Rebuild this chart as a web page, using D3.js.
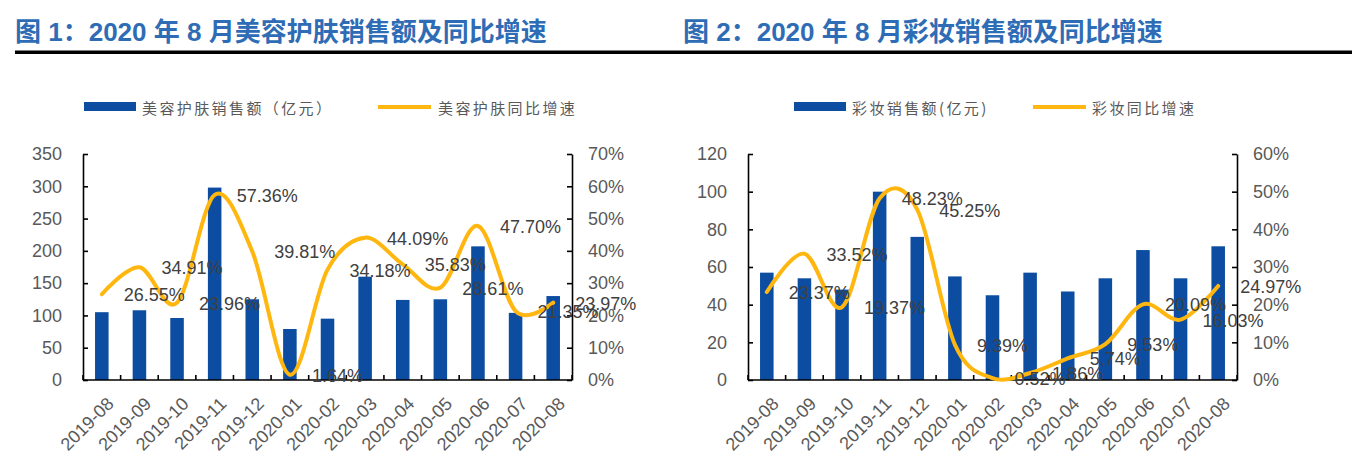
<!DOCTYPE html>
<html><head><meta charset="utf-8">
<script src="https://cdn.jsdelivr.net/npm/d3@7"></script>
<style>body{margin:0;background:#fff} svg{display:block}</style>
</head><body><svg id="c" width="1363" height="470"></svg>
<script>
const categories = ["2019-08","2019-09","2019-10","2019-11","2019-12","2020-01","2020-02","2020-03","2020-04","2020-05","2020-06","2020-07","2020-08"];
const skincareSales = [105,108,96,298,125,79,95,160,124,125,207,104,130];
const skincareGrowth = [26.55,34.91,23.96,57.36,39.81,1.64,34.18,44.09,35.83,28.61,47.70,21.35,23.97];
const makeupSales = [57,54,48,100,76,55,45,57,47,54,69,54,71];
const makeupGrowth = [23.37,33.52,19.37,48.23,45.25,9.39,0.52,1.86,5.74,9.53,20.09,16.03,24.97];
const skincareLeftTicks = [0,50,100,150,200,250,300,350];
const skincareRightTicks = [0,10,20,30,40,50,60,70];
const makeupLeftTicks = [0,20,40,60,80,100,120];
const makeupRightTicks = [0,10,20,30,40,50,60];
const title1 = "图 1：2020 年 8 月美容护肤销售额及同比增速";
const title2 = "图 2：2020 年 8 月彩妆销售额及同比增速";
const legend1 = ["美容护肤销售额（亿元）","美容护肤同比增速"];
const legend2 = ["彩妆销售额(亿元)","彩妆同比增速"];

const BAR = "#0C4DA2", LINE = "#FFB70F";
const FONT = "'Liberation Sans', Arial, 'Noto Sans CJK SC', sans-serif";
const CJK = "'Noto Sans CJK SC', sans-serif";
const svg = d3.select("#c");

svg.append("line").attr("x1",15).attr("x2",1352).attr("y1",52.3).attr("y2",52.3)
  .attr("stroke","#000").attr("stroke-width",3.4);

function drawChart(o){
  const g = svg.append("g");
  g.append("text").attr("x",o.titleX).attr("y",41).text(o.title)
    .attr("font-family",FONT).attr("font-weight","bold").attr("font-size",26).attr("fill","#2E6CB5");

  const x = d3.scaleBand().domain(categories).range([o.x0,o.x1]).padding(0);
  const yL = d3.scaleLinear().domain([0,d3.max(o.leftTicks)]).range([380,154]);
  const yR = d3.scaleLinear().domain([0,d3.max(o.rightTicks)]).range([380,154]);
  const bw = x.bandwidth()*0.36;

  // bars
  g.selectAll("rect.bar").data(o.sales).join("rect").attr("class","bar")
    .attr("x",(d,i)=>x(categories[i])+x.bandwidth()/2-bw/2)
    .attr("y",d=>yL(d)).attr("width",bw).attr("height",d=>yL(0)-yL(d)).attr("fill",BAR);

  // axes
  const axL = d3.axisLeft(yL).tickValues(o.leftTicks).tickSize(-5).tickSizeOuter(0).tickPadding(21);
  const axR = d3.axisRight(yR).tickValues(o.rightTicks).tickSize(-5).tickSizeOuter(0).tickPadding(16)
     .tickFormat(d=>d+"%");
  const gl = g.append("g").attr("transform",`translate(${o.x0},0)`).call(axL);
  const gr = g.append("g").attr("transform",`translate(${o.x1},0)`).call(axR);
  [gl,gr].forEach(a=>{
    a.select(".domain").attr("stroke","#000").attr("stroke-width",1.6);
    a.selectAll(".tick line").attr("stroke","#000").attr("stroke-width",1.6);
    a.selectAll(".tick text").attr("font-family",FONT).attr("font-size",18).attr("fill","#595959");
  });
  // x axis
  g.append("line").attr("x1",o.x0).attr("x2",o.x1).attr("y1",380).attr("y2",380)
    .attr("stroke","#000").attr("stroke-width",1.6);
  const bounds = categories.map(c=>x(c)).concat([x.range()[1]]);
  g.selectAll("line.xt").data(bounds).join("line").attr("class","xt")
    .attr("x1",d=>d).attr("x2",d=>d).attr("y1",380).attr("y2",375)
    .attr("stroke","#000").attr("stroke-width",1.6);
  g.selectAll("text.xl").data(categories).join("text").attr("class","xl")
    .attr("transform",d=>`translate(${x(d)+x.bandwidth()/2+4},${396}) rotate(-45)`)
    .attr("text-anchor","end").attr("dy","0.7em").text(d=>d)
    .attr("font-family",FONT).attr("font-size",18).attr("fill","#595959");

  // line
  const line = d3.line().x((d,i)=>x(categories[i])+x.bandwidth()/2).y(d=>yR(d))
    .curve(d3.curveCardinal.tension(0));
  g.append("path").datum(o.growth).attr("d",line).attr("fill","none")
    .attr("stroke",LINE).attr("stroke-width",4).attr("stroke-linecap","round");

  // labels
  g.selectAll("text.dl").data(o.growth).join("text").attr("class","dl")
    .attr("x",(d,i)=>x(categories[i])+x.bandwidth()/2+22).attr("y",d=>yR(d)+1)
    .attr("dominant-baseline","central").text(d=>d.toFixed(2)+"%")
    .attr("font-family",FONT).attr("font-size",18).attr("fill","#404040");

  // legend
  const lg = g.append("g");
  lg.append("rect").attr("x",o.leg[0]).attr("y",102).attr("width",52).attr("height",9).attr("fill",BAR);
  lg.append("text").attr("x",o.leg[1]).attr("y",107).attr("dominant-baseline","central").text(o.legend[0])
    .attr("font-family",CJK).attr("font-size",15).attr("letter-spacing",2.4).attr("fill","#595959");
  lg.append("line").attr("x1",o.leg[2]).attr("x2",o.leg[2]+53).attr("y1",107).attr("y2",107)
    .attr("stroke",LINE).attr("stroke-width",4);
  lg.append("text").attr("x",o.leg[3]).attr("y",107).attr("dominant-baseline","central").text(o.legend[1])
    .attr("font-family",CJK).attr("font-size",15).attr("letter-spacing",2.4).attr("fill","#595959");
}

drawChart({title:title1,titleX:15,x0:83,x1:572,sales:skincareSales,growth:skincareGrowth,
  leftTicks:skincareLeftTicks,rightTicks:skincareRightTicks,legend:legend1,leg:[84,142,378,438]});
drawChart({title:title2,titleX:683,x0:748,x1:1237,sales:makeupSales,growth:makeupGrowth,
  leftTicks:makeupLeftTicks,rightTicks:makeupRightTicks,legend:legend2,leg:[794,852,1033,1092]});
</script></body></html>
